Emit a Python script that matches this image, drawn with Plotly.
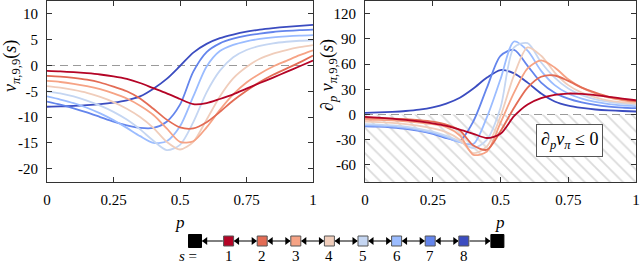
import plotly.graph_objects as go

# ---------------- data ----------------
p_grid = [0.0, 0.05, 0.1, 0.15, 0.2, 0.25, 0.3, 0.35, 0.4, 0.45, 0.5,
          0.55, 0.6, 0.65, 0.7, 0.75, 0.8, 0.85, 0.9, 0.95, 1.0]

states = [1, 2, 3, 4, 5, 6, 7, 8]
state_colors = ["#b40426", "#e36c55", "#f6a385", "#f0cdbb",
                "#c5d6f2", "#9bbcff", "#6485ec", "#3b4cc0"]

# left panel: v_{pi,9,9}(s)
v_s1 = [-1.05, -1.15, -1.3, -1.5, -1.75, -2.1, -2.6, -3.4, -4.4, -5.4, -6.5,
        -7.5, -7.3, -6.5, -5.6, -4.5, -3.4, -2.35, -1.25, -0.15, 0.95]
v_s2 = [-2.0, -2.15, -2.4, -2.75, -3.3, -4.1, -5.0, -6.4, -8.4, -10.5, -12.0,
        -12.2, -11.0, -9.0, -6.8, -4.9, -3.2, -1.8, -0.6, 0.6, 1.95]
v_s3 = [-3.0, -3.2, -3.55, -4.0, -4.6, -5.4, -6.4, -7.8, -9.6, -12.2, -14.8,
        -14.7, -12.0, -8.6, -5.6, -3.3, -1.6, -0.2, 0.9, 2.0, 2.95]
v_s4 = [-4.0, -4.3, -4.75, -5.3, -6.1, -7.1, -8.4, -10.0, -12.1, -14.8, -16.3,
        -14.8, -10.5, -6.0, -2.5, -0.3, 1.3, 2.3, 3.0, 3.55, 3.95]
v_s5 = [-5.0, -5.4, -6.0, -6.8, -7.8, -9.0, -10.5, -12.4, -14.6, -16.4, -15.4,
        -11.0, -5.2, -1.0, 1.6, 3.0, 3.8, 4.3, 4.6, 4.8, 4.9]
v_s6 = [-6.0, -6.6, -7.3, -8.2, -9.3, -10.6, -12.1, -13.7, -15.0, -14.7, -11.8,
        -6.0, -0.2, 2.8, 4.0, 4.7, 5.15, 5.45, 5.65, 5.8, 5.9]
v_s7 = [-7.0, -7.6, -8.3, -9.1, -10.0, -10.9, -11.6, -12.1, -12.1, -10.9, -7.6,
        -1.2, 2.6, 4.3, 5.2, 5.8, 6.2, 6.5, 6.7, 6.85, 6.95]
v_s8 = [-8.0, -7.95, -7.85, -7.7, -7.5, -7.2, -6.75, -6.0, -4.5, -2.6, -0.1,
        2.5, 4.2, 5.3, 6.0, 6.55, 6.95, 7.25, 7.5, 7.7, 7.88]

# right panel: d/dp v_{pi,9,9}(s)
dv_s1 = [-2.8, -3.6, -4.8, -6.3, -8.2, -10.5, -13.5, -18.0, -23.0, -28.0, -23.0,
         -2.0, 12.0, 19.5, 23.5, 25.0, 24.5, 23.0, 21.0, 19.0, 17.0]
dv_s2 = [-4.0, -4.3, -4.8, -5.6, -6.8, -8.6, -12.0, -19.0, -37.0, -42.0, -20.0,
         8.0, 32.0, 45.0, 46.5, 40.0, 32.0, 26.0, 21.0, 18.0, 16.0]
dv_s3 = [-6.0, -6.3, -7.0, -8.0, -9.5, -11.5, -15.0, -25.0, -48.0, -44.0, -10.0,
         26.0, 55.0, 64.5, 56.0, 42.0, 32.0, 25.0, 20.0, 17.0, 15.0]
dv_s4 = [-8.5, -9.0, -10.0, -11.5, -13.5, -16.5, -21.0, -30.0, -46.0, -38.0, -2.0,
         47.0, 80.0, 70.0, 50.0, 35.0, 26.0, 20.5, 16.5, 14.5, 13.0]
dv_s5 = [-11.5, -12.0, -13.0, -14.5, -17.0, -20.5, -25.5, -32.0, -40.0, -30.0, 8.0,
         80.0, 85.0, 62.0, 44.0, 31.0, 23.0, 18.0, 15.0, 13.0, 11.5]
dv_s6 = [-13.0, -13.5, -14.5, -16.0, -18.5, -22.0, -27.0, -33.0, -35.0, -3.0, 42.0,
         87.0, 76.0, 52.0, 35.0, 25.0, 19.0, 15.0, 12.5, 11.0, 10.0]
dv_s7 = [-14.0, -14.5, -15.5, -17.0, -19.5, -23.0, -28.0, -31.0, -8.0, 32.0, 70.0,
         77.0, 58.0, 38.0, 26.0, 19.0, 14.5, 11.5, 9.5, 8.3, 7.5]
dv_s8 = [2.0, 2.5, 3.2, 4.2, 5.8, 8.5, 13.0, 20.0, 31.0, 44.0, 53.0,
         49.0, 38.0, 25.0, 15.5, 10.5, 7.8, 6.0, 4.9, 4.2, 3.6]

v_series = [v_s1, v_s2, v_s3, v_s4, v_s5, v_s6, v_s7, v_s8]
dv_series = [dv_s1, dv_s2, dv_s3, dv_s4, dv_s5, dv_s6, dv_s7, dv_s8]

x_tickvals = [0, 0.25, 0.5, 0.75, 1]
x_ticktext = ["0", "0.25", "0.5", "0.75", "1"]
y1_tickvals = [-20, -15, -10, -5, 0, 5, 10]
y1_ticktext = ["-20", "-15", "-10", "-5", "0", "5", "10"]
y2_tickvals = [-60, -30, 0, 30, 60, 90, 120]
y2_ticktext = ["-60", "-30", "0", "30", "60", "90", "120"]
y1_range = [-22.6, 12.6]
y2_range = [-80.4, 135.8]

chain_positions = [0, 1, 2, 3, 4, 5, 6, 7, 8, 9]

# ---------------- figure ----------------
FONT = "Liberation Serif"
fig = go.Figure()

# hatched region (d_p v <= 0)
fig.add_trace(go.Scatter(
    x=[0, 1, 1, 0, 0], y=[0, 0, y2_range[0], y2_range[0], 0],
    xaxis="x2", yaxis="y2", mode="none", fill="toself",
    fillcolor="white",
    fillpattern=dict(shape="\\", size=9, solidity=0.2,
                     fgcolor="#b8b8b8", bgcolor="white"),
    hoverinfo="skip", showlegend=False))

# dashed zero lines
for xa, ya in [("x", "y"), ("x2", "y2")]:
    fig.add_trace(go.Scatter(
        x=[0, 1], y=[0, 0], xaxis=xa, yaxis=ya, mode="lines",
        line=dict(color="#9a9a9a", width=1.2, dash="8px,5px"),
        hoverinfo="skip", showlegend=False))

order = list(range(len(states)))[::-1]
for i in order:
    fig.add_trace(go.Scatter(
        x=p_grid, y=v_series[i], xaxis="x", yaxis="y", mode="lines",
        line=dict(color=state_colors[i], width=1.8, shape="spline", smoothing=0.8),
        hoverinfo="skip", showlegend=False))
for i in order:
    fig.add_trace(go.Scatter(
        x=p_grid, y=dv_series[i], xaxis="x2", yaxis="y2", mode="lines",
        line=dict(color=state_colors[i], width=1.8, shape="spline", smoothing=0.8),
        hoverinfo="skip", showlegend=False))

# chain diagram: connecting lines with arrowheads
gap_small = 0.17
gap_big = 0.22
head_off = 0.09
n_pos = len(chain_positions)
for k in range(n_pos - 1):
    a = chain_positions[k]
    b = chain_positions[k + 1]
    start = a + (gap_big if k == 0 else gap_small)
    end = b - (gap_big if k + 1 == n_pos - 1 else gap_small)
    fig.add_trace(go.Scatter(
        x=[start, end], y=[0, 0], xaxis="x3", yaxis="y3", mode="lines",
        line=dict(color="black", width=1), hoverinfo="skip", showlegend=False))
    hx, hs = [], []
    if k < n_pos - 2:
        hx.append(start + head_off)
        hs.append("triangle-left")
    if k > 0:
        hx.append(end - head_off)
        hs.append("triangle-right")
    fig.add_trace(go.Scatter(
        x=hx, y=[0] * len(hx), xaxis="x3", yaxis="y3", mode="markers",
        marker=dict(symbol=hs, size=7, color="black", opacity=1, line=dict(width=0)),
        opacity=1, hoverinfo="skip", showlegend=False))

chain_colors = ["#000000"] + state_colors + ["#000000"]
chain_edges = ["#000000"] + ["#555555"] * 8 + ["#000000"]
chain_sizes = [13] + [10] * 8 + [13]
fig.add_trace(go.Scatter(
    x=chain_positions, y=[0] * n_pos, xaxis="x3", yaxis="y3",
    mode="markers", opacity=1,
    marker=dict(symbol="square", size=chain_sizes, color=chain_colors, opacity=1,
                line=dict(color=chain_edges, width=1)),
    hoverinfo="skip", showlegend=False))

annotations = []
for s in states:
    annotations.append(dict(x=s, y=-0.64, xref="x3", yref="y3", text=str(s),
                            xanchor="center", yanchor="middle",
                            showarrow=False, font=dict(family=FONT, size=15, color="black")))
annotations.append(dict(x=-0.2, y=-0.64, xref="x3", yref="y3", text="<i>s</i> =",
                        xanchor="center", yanchor="middle",
                        showarrow=False, font=dict(family=FONT, size=15, color="black")))

# axis titles
for px in (180, 500):
    annotations.append(dict(x=px / 640, y=1 - 222 / 265, xref="paper", yref="paper",
                            text="<i>p</i>", showarrow=False,
                            xanchor="center", yanchor="middle",
                            font=dict(family=FONT, size=17, color="black")))
annotations.append(dict(x=12 / 640, y=1 - 66 / 265, xref="paper", yref="paper",
                        text="<i>v</i><sub><i>π</i>,9,9</sub>(<i>s</i>)", textangle=-90,
                        xanchor="center", yanchor="middle",
                        showarrow=False, font=dict(family=FONT, size=18, color="black")))
annotations.append(dict(x=329 / 640, y=1 - 75 / 265, xref="paper", yref="paper",
                        text="∂<sub><i>p</i></sub> <i>v</i><sub><i>π</i>,9,9</sub>(<i>s</i>)",
                        textangle=-90, showarrow=False,
                        xanchor="center", yanchor="middle",
                        font=dict(family=FONT, size=18, color="black")))
# inequality box
annotations.append(dict(x=569 / 640, y=1 - 140 / 265, xref="paper", yref="paper",
                        text="∂<sub><i>p</i></sub><i>v</i><sub><i>π</i></sub> ≤ 0",
                        xanchor="center", yanchor="middle",
                        showarrow=False, bgcolor="white", bordercolor="#555555",
                        borderwidth=1, borderpad=4,
                        font=dict(family=FONT, size=18, color="black")))

axis_style = dict(showline=True, linecolor="#333333", linewidth=1, mirror="ticks",
                  ticks="inside", ticklen=5, tickcolor="#333333", tickwidth=1,
                  showgrid=False, zeroline=False, automargin=False,
                  tickfont=dict(family=FONT, size=15, color="black"))

y_dom = [1 - 182 / 265, 0.998]
fig.update_layout(
    width=640, height=265,
    margin=dict(l=0, r=0, t=0, b=0),
    paper_bgcolor="white", plot_bgcolor="white",
    showlegend=False, hovermode=False,
    xaxis=dict(domain=[47 / 640, 313 / 640], range=[0, 1], anchor="y",
               tickvals=x_tickvals, ticktext=x_ticktext, ticklabelstandoff=4, **axis_style),
    yaxis=dict(domain=y_dom, range=y1_range, anchor="x",
               tickvals=y1_tickvals, ticktext=y1_ticktext, ticklabelstandoff=5, **axis_style),
    xaxis2=dict(domain=[365 / 640, 636 / 640], range=[0, 1], anchor="y2",
                tickvals=x_tickvals, ticktext=x_ticktext, ticklabelstandoff=4, **axis_style),
    yaxis2=dict(domain=y_dom, range=y2_range, anchor="x2",
                tickvals=y2_tickvals, ticktext=y2_ticktext, ticklabelstandoff=5, **axis_style),
    xaxis3=dict(domain=[0, 1], range=[-195 / 33.6, (640 - 195) / 33.6], anchor="y3",
                visible=False, fixedrange=True),
    yaxis3=dict(domain=[0, 48 / 265], range=[-1, 1], anchor="x3",
                visible=False, fixedrange=True),
    annotations=annotations,
)

fig.write_html("out.html", config={"displayModeBar": False, "staticPlot": True},
               post_script="document.body.style.margin='0px';document.body.style.overflow='hidden';")
